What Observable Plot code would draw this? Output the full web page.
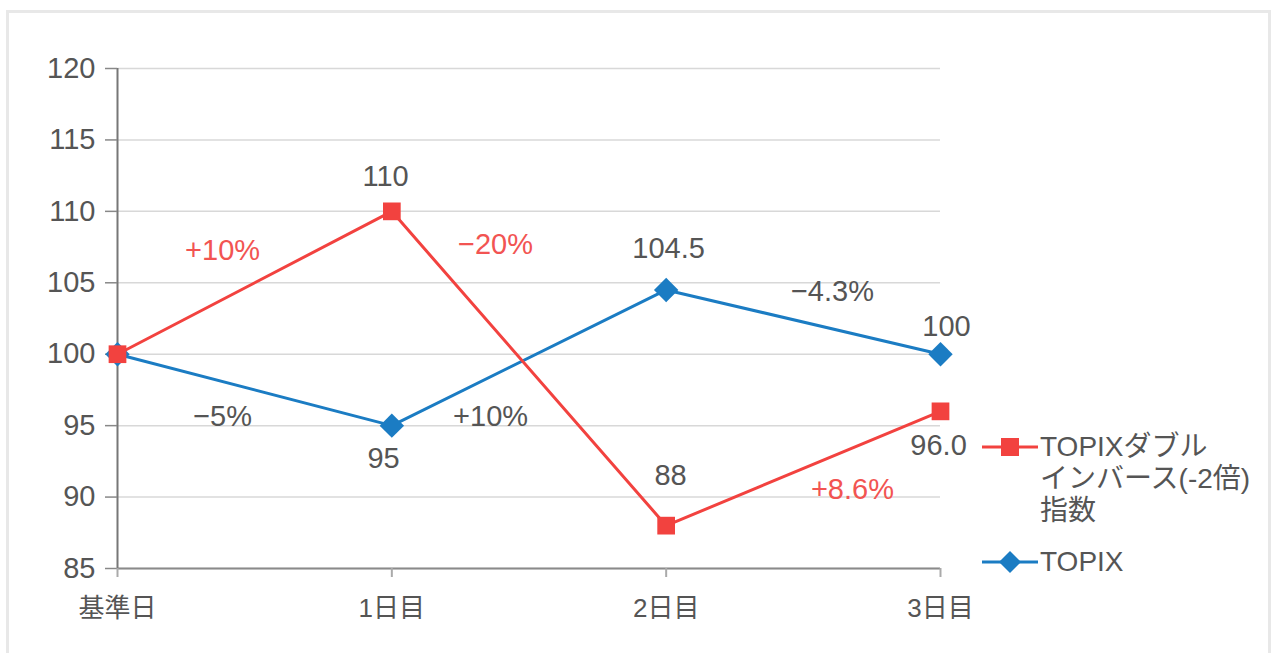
<!DOCTYPE html>
<html><head><meta charset="utf-8">
<script src="https://cdn.jsdelivr.net/npm/d3@7"></script>
<script src="https://cdn.jsdelivr.net/npm/@observablehq/plot@0.6"></script>
<style>
body{margin:0;background:#fff;}
#wrap{position:relative;width:1277px;height:653px;overflow:hidden;font-family:"Liberation Sans","Noto Sans CJK JP",sans-serif;color:#555;}
#frame{position:absolute;left:6px;top:10px;width:1265px;height:720px;border:3px solid #e8e8e8;box-sizing:border-box;}
#chart{position:absolute;left:0;top:0;}
.lg{position:absolute;font-size:28px;line-height:32px;color:#555;white-space:nowrap;}
.sw{position:absolute;}
</style>
</head><body>
<div id="wrap">
  <div id="frame"></div>
  <div id="chart"></div>
  <div id="legend"></div>
</div>
<script>
// ---- data ----
const days = ["基準日", "1日目", "2日目", "3日目"];
const doubleInverse = [100, 110, 88, 96.0];
const topix = [100, 95, 104.5, 100];
const yTicks = [85, 90, 95, 100, 105, 110, 115, 120];
const seriesNames = [["TOPIXダブル", "インバース(-2倍)", "指数"], ["TOPIX"]];
const valueLabelText = ["110", "95", "104.5", "88", "100", "96.0"];
const valueLabelAt = [[0.977, 112.44], [0.970, 92.70], [2.009, 107.40], [2.016, 91.51], [3.022, 101.94], [2.993, 93.61]];
const changeText = ["+10%", "−20%", "+8.6%", "−5%", "+10%", "−4.3%"];
const changeSeries = [0, 0, 0, 1, 1, 1];
const changeAt = [[0.383, 107.26], [1.378, 107.68], [2.679, 90.53], [0.383, 95.64], [1.360, 95.64], [2.606, 104.39]];

const RED = "#f2423f", BLUE = "#1b7cc3", TEXT = "#555", CHG_RED = "#f25452";

const dataRed = doubleInverse.map((v, i) => ({i, v}));
const dataBlue = topix.map((v, i) => ({i, v}));
const vLabels = valueLabelText.map((t, k) => ({t, i: valueLabelAt[k][0], v: valueLabelAt[k][1]}));
const cLabels = changeText.map((t, k) => ({t, s: changeSeries[k], i: changeAt[k][0], v: changeAt[k][1]}));

const plot = Plot.plot({
  width: 1277, height: 653,
  marginLeft: 117, marginRight: 337, marginTop: 68, marginBottom: 85,
  style: {fontFamily: '"Liberation Sans","Noto Sans CJK JP",sans-serif', color: TEXT, background: "transparent"},
  x: {type: "linear", domain: [0, 3]},
  y: {domain: [85, 120]},
  marks: [
    Plot.gridY(yTicks, {stroke: "#d8d8d8", strokeOpacity: 1, strokeWidth: 1.5}),
    Plot.ruleY([85], {stroke: "#8a8a8a", strokeWidth: 2}),
    Plot.ruleX([0], {y1: 85, y2: 120, stroke: "#777", strokeWidth: 2}),
    Plot.axisY({ticks: yTicks, tickSize: 12, tickPadding: 10, fontSize: 29, stroke: "#888", strokeWidth: 1.5, label: null, color: TEXT}),
    Plot.axisX({ticks: [0, 1, 2, 3], tickFormat: i => days[i], tickSize: 9, tickPadding: 21, fontSize: 26, stroke: "#aaa", strokeWidth: 2, label: null, color: TEXT}),
    Plot.line(dataBlue, {x: "i", y: "v", stroke: BLUE, strokeWidth: 3}),
    Plot.line(dataRed, {x: "i", y: "v", stroke: RED, strokeWidth: 3}),
    Plot.dot(dataBlue, {x: "i", y: "v", symbol: "diamond2", r: 11, fill: BLUE, stroke: "none"}),
    Plot.dot(dataRed, {x: "i", y: "v", symbol: "square", r: 10, fill: RED, stroke: "none"}),
    Plot.text(vLabels, {x: "i", y: "v", text: "t", fontSize: 29, fill: TEXT}),
    Plot.text(cLabels, {x: "i", y: "v", text: "t", fontSize: 29, fill: d => d.s === 0 ? CHG_RED : TEXT})
  ]
});
document.getElementById("chart").appendChild(plot);

// ---- legend ----
const lg = document.getElementById("legend");
function swatch(cy, color, shape) {
  const ns = "http://www.w3.org/2000/svg";
  const s = document.createElementNS(ns, "svg");
  s.setAttribute("class", "sw");
  s.setAttribute("width", 56); s.setAttribute("height", 24);
  s.style.left = "982px"; s.style.top = (cy - 12) + "px";
  const l = document.createElementNS(ns, "line");
  l.setAttribute("x1", 0); l.setAttribute("x2", 56); l.setAttribute("y1", 12); l.setAttribute("y2", 12);
  l.setAttribute("stroke", color); l.setAttribute("stroke-width", 3);
  s.appendChild(l);
  if (shape === "square") {
    const r = document.createElementNS(ns, "rect");
    r.setAttribute("x", 19); r.setAttribute("y", 3); r.setAttribute("width", 18); r.setAttribute("height", 18);
    r.setAttribute("fill", color); s.appendChild(r);
  } else {
    const p = document.createElementNS(ns, "polygon");
    p.setAttribute("points", "28,1 39,12 28,23 17,12");
    p.setAttribute("fill", color); s.appendChild(p);
  }
  lg.appendChild(s);
}
function legText(top, lines) {
  const d = document.createElement("div");
  d.className = "lg"; d.style.left = "1040px"; d.style.top = top + "px";
  d.innerHTML = lines.map(t => t.replace(/&/g, "&amp;")).join("<br>");
  lg.appendChild(d);
}
swatch(447, RED, "square");
legText(431, seriesNames[0]);
swatch(562, BLUE, "diamond");
legText(546, seriesNames[1]);
</script>
</body></html>
